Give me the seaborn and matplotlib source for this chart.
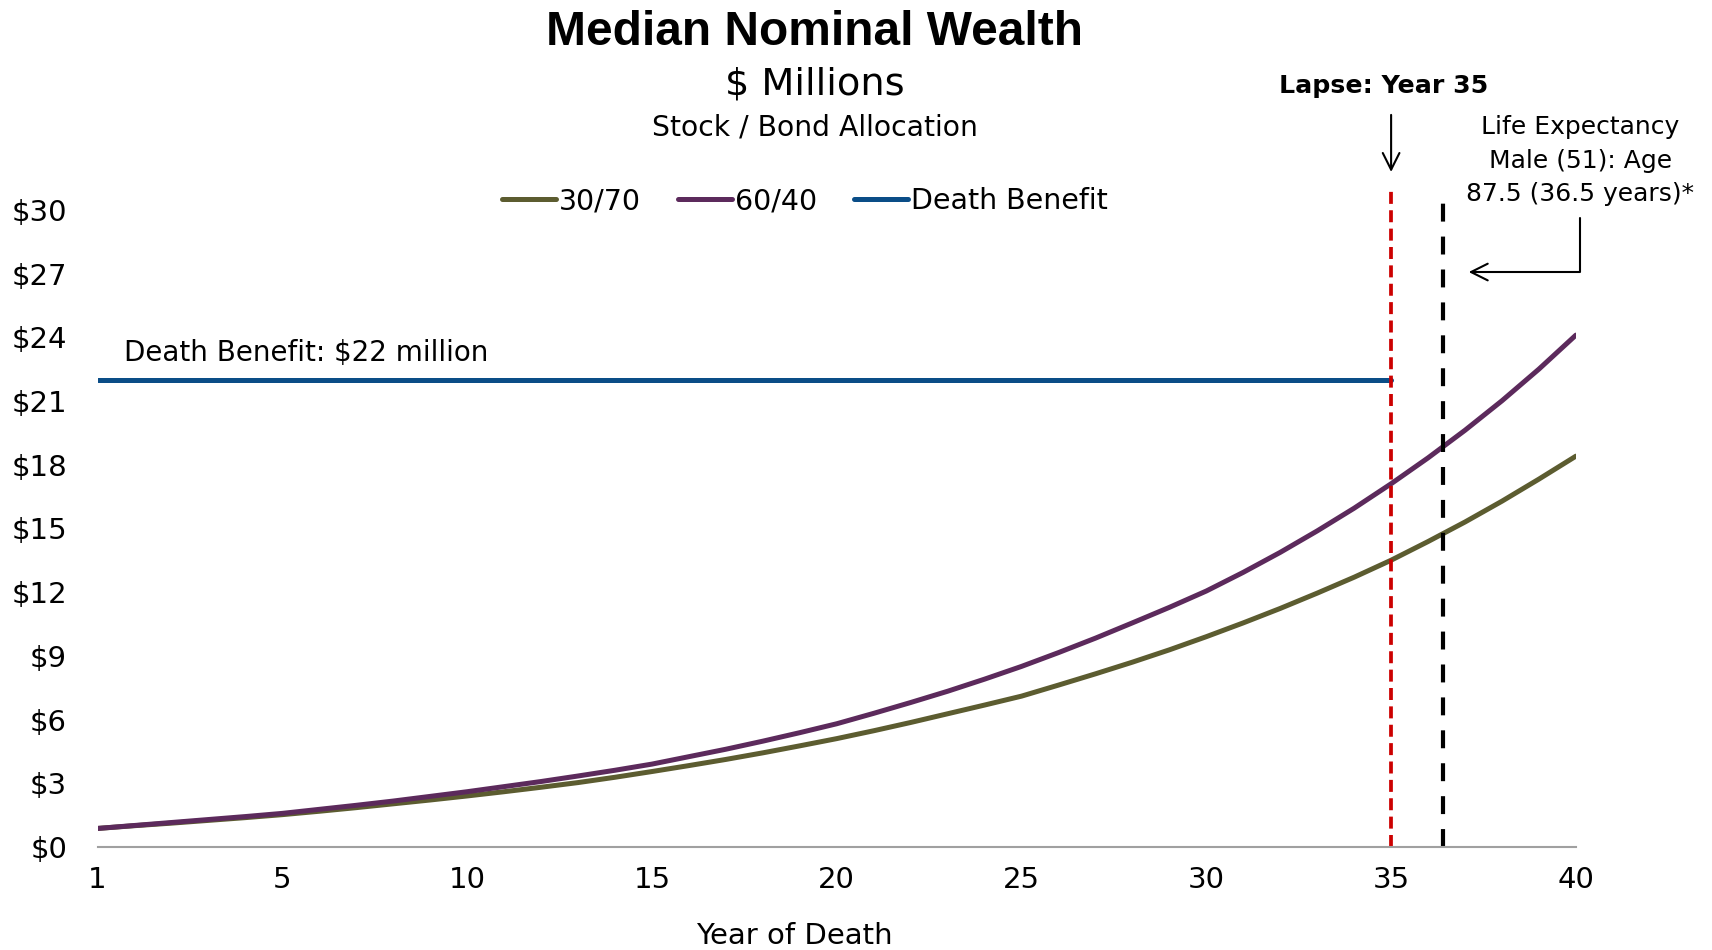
import numpy as np
import pandas as pd
import matplotlib
matplotlib.use("Agg")
import matplotlib.pyplot as plt
import seaborn as sns

# category-style x axis: 41 evenly spaced periods, first labelled "1"
periods = list(range(0, 41))
wealth_30_70 = [0.87, 1.00, 1.12, 1.25, 1.38, 1.52, 1.68, 1.85, 2.03, 2.21, 2.40,
                2.60, 2.81, 3.03, 3.28, 3.55, 3.83, 4.12, 4.43, 4.76, 5.10,
                5.47, 5.86, 6.27, 6.68, 7.10, 7.62, 8.15, 8.70, 9.28, 9.90,
                10.55, 11.23, 11.95, 12.70, 13.50, 14.38, 15.30, 16.28, 17.32, 18.40]
wealth_60_40 = [0.87, 1.01, 1.15, 1.29, 1.43, 1.58, 1.77, 1.96, 2.16, 2.38, 2.60,
                2.84, 3.08, 3.34, 3.61, 3.90, 4.25, 4.60, 4.98, 5.38, 5.80,
                6.29, 6.80, 7.33, 7.90, 8.50, 9.15, 9.83, 10.55, 11.28, 12.05,
                12.93, 13.87, 14.88, 15.95, 17.10, 18.32, 19.62, 21.01, 22.50, 24.10]
benefit_periods = list(range(0, 36))
death_benefit = [22.0] * len(benefit_periods)
lapse_pos = 35
life_expectancy_pos = 36.4
y_ticks = list(range(0, 31, 3))
x_tick_pos = [0, 5, 10, 15, 20, 25, 30, 35, 40]
x_tick_labels = ["1", "5", "10", "15", "20", "25", "30", "35", "40"]

df = pd.concat([
    pd.DataFrame({"period": periods, "wealth": wealth_30_70, "series": "30/70"}),
    pd.DataFrame({"period": periods, "wealth": wealth_60_40, "series": "60/40"}),
    pd.DataFrame({"period": benefit_periods, "wealth": death_benefit, "series": "Death Benefit"}),
])

sns.set_theme(style="white")
plt.rcParams['font.family'] = ['DejaVu Sans']
plt.rcParams['text.color'] = 'black'
plt.rcParams['axes.labelcolor'] = 'black'

palette = {"30/70": "#5c5c30", "60/40": "#5c2a5c", "Death Benefit": "#0a4d87"}

fig = plt.figure(figsize=(17.12, 9.5), dpi=100)
ax = fig.add_axes([0.057, 0.1085, 0.8635, 0.693])

sns.lineplot(data=df, x="period", y="wealth", hue="series", palette=palette,
             linewidth=3.6, ax=ax, legend=True)

ax.axvline(lapse_pos, ymin=0, ymax=1, color="#cc0000", ls=(0, (3.2, 1.7)), lw=2.7)
ax.axvline(life_expectancy_pos, ymin=0, ymax=1, color="black", ls=(0, (4.3, 3.6)), lw=3)

ax.set_xlim(0, 40)
ax.set_ylim(0, 31)
ax.set_xticks(x_tick_pos)
ax.set_xticklabels(x_tick_labels)
ax.set_yticks(y_ticks)
ax.set_yticklabels([f"${v}" for v in y_ticks])
ax.tick_params(axis="both", labelsize=21, length=0, colors="black")
ax.tick_params(axis="x", pad=14)
ax.tick_params(axis="y", pad=22)
sns.despine(ax=ax, left=True, top=True, right=True)
ax.spines["bottom"].set_color("#a0a0a0")
ax.spines["bottom"].set_linewidth(1.5)
ax.set_xlabel("Year of Death", fontsize=21)
ax.xaxis.set_label_coords(0.471, -0.114)
ax.set_ylabel("")

leg = ax.legend(loc="center", bbox_to_anchor=(0.47, 0.788), bbox_transform=fig.transFigure,
                ncol=3, frameon=False, fontsize=20.5, handlelength=1.9, handletextpad=0.1,
                columnspacing=1.3)

fig.text(0.476, 0.966, "Median Nominal Wealth", ha="center", va="center",
         fontsize=34.5, fontweight="bold", family="Liberation Sans")
fig.text(0.476, 0.911, "$ Millions", ha="center", va="center", fontsize=27.5)
fig.text(0.476, 0.866, "Stock / Bond Allocation", ha="center", va="center", fontsize=20.3)

ax.text(0.71, 22.6, "Death Benefit: $22 million", fontsize=20, ha="left", va="bottom")

ax.annotate("", xy=(lapse_pos, 31.65), xytext=(lapse_pos, 34.6), annotation_clip=False,
            arrowprops=dict(arrowstyle="->", color="black", lw=1.5, mutation_scale=30))
ax.text(lapse_pos - 0.2, 35.85, "Lapse: Year 35", fontsize=18.2, fontweight="bold",
        ha="center", va="center", clip_on=False)

ax.text(40.12, 32.32, "Life Expectancy\nMale (51): Age\n87.5 (36.5 years)*", fontsize=18,
        ha="center", va="center", linespacing=1.5, clip_on=False)
ax.annotate("", xy=(37.1, 27.07), xytext=(40.12, 29.6), annotation_clip=False,
            arrowprops=dict(arrowstyle="->", color="black", lw=1.5, mutation_scale=30,
                            shrinkA=0, shrinkB=0,
                            connectionstyle="angle,angleA=90,angleB=0,rad=0"))

fig.savefig("out.png", dpi=100)
